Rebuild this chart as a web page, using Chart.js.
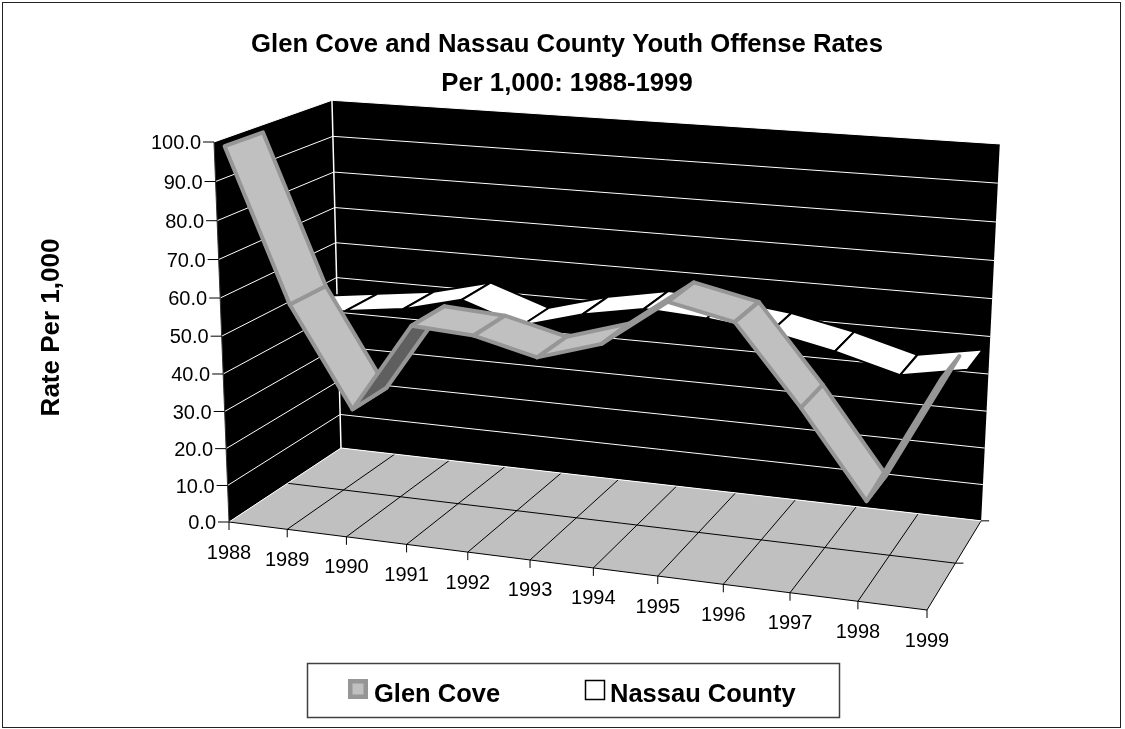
<!DOCTYPE html>
<html>
<head>
<meta charset="utf-8">
<title>Glen Cove and Nassau County Youth Offense Rates</title>
<script src="https://cdn.jsdelivr.net/npm/chart.js@4.4.1/dist/chart.umd.min.js"></script>
<style>
  html, body { margin: 0; padding: 0; background: #fff; }
  canvas { display: block; }
</style>
</head>
<body>
<canvas id="chart" width="1125" height="729"></canvas>
<script>
// Youth offense rate per 1,000, by year
const years = ['1988', '1989', '1990', '1991', '1992', '1993', '1994', '1995', '1996', '1997', '1998', '1999'];
const glenCove = [98.0, 58.5, 32.5, 56.0, 55.0, 51.0, 56.0, 68.0, 64.5, 45.0, 23.5, 55.5];
const nassauCounty = [47.0, 49.0, 51.0, 55.0, 49.5, 54.0, 57.0, 56.0, 54.0, 50.5, 46.0, 49.0];
const rateTicks = [0, 10, 20, 30, 40, 50, 60, 70, 80, 90, 100];

const FONT = "'Liberation Sans', Arial, sans-serif";

// 3D box on screen: front-left-bottom corner, the three edges leaving it
// (years, rate, series depth) and a perspective factor for each edge
const origin = [229, 522];
const edgeX = [698, 88];
const edgeY = [-15, -380];
const edgeZ = [112, -74];
const persp = [-0.09, -0.043, 0.098];

// depth band of each ribbon, 0 = front of floor, 1 = back wall
const ribbonDepth = [[0.08, 0.39], [0.56, 0.86]];

function project(u, v, w) {
  const d = 1 + persp[0] * u + persp[1] * v + persp[2] * w;
  const sx = 1 + persp[0], sy = 1 + persp[1], sz = 1 + persp[2];
  const x = u * edgeX[0] * sx + v * edgeY[0] * sy + w * edgeZ[0] * sz;
  const y = u * edgeX[1] * sx + v * edgeY[1] * sy + w * edgeZ[1] * sz;
  return [origin[0] + x / d, origin[1] + y / d];
}

function fillPoly(ctx, pts, color) {
  ctx.beginPath();
  pts.forEach((p, i) => i ? ctx.lineTo(p[0], p[1]) : ctx.moveTo(p[0], p[1]));
  ctx.closePath();
  ctx.fillStyle = color;
  ctx.fill();
}

function line(ctx, a, b, color, width) {
  ctx.beginPath();
  ctx.moveTo(a[0], a[1]);
  ctx.lineTo(b[0], b[1]);
  ctx.strokeStyle = color;
  ctx.lineWidth = width;
  ctx.stroke();
}

// normalised position of a category / value inside the chart area
function unitX(chart, index) {
  const a = chart.chartArea;
  return (chart.scales.x.getPixelForValue(index) - a.left) / (a.right - a.left);
}
function unitY(chart, value) {
  const a = chart.chartArea;
  return (a.bottom - chart.scales.y.getPixelForValue(value)) / (a.bottom - a.top);
}

function drawRibbon(ctx, chart, dsIndex) {
  const ds = chart.data.datasets[dsIndex];
  const meta = chart.getDatasetMeta(dsIndex);
  const a = chart.chartArea;
  const [w0, w1] = ribbonDepth[dsIndex];
  const pts = meta.data.map(el => ({
    u: (el.x - a.left) / (a.right - a.left),
    v: (a.bottom - el.y) / (a.bottom - a.top)
  }));
  const segs = [];
  for (let i = 0; i < pts.length - 1; i++) {
    const p = pts[i], q = pts[i + 1];
    segs.push({
      quad: [project(p.u, p.v, w0), project(q.u, q.v, w0), project(q.u, q.v, w1), project(p.u, p.v, w1)],
      dist: 1 + persp[0] * (p.u + q.u) / 2 + persp[1] * (p.v + q.v) / 2
    });
  }
  // far segments first
  segs.sort((s, t) => t.dist - s.dist);
  ctx.save();
  ctx.lineJoin = 'round';
  segs.forEach(s => {
    const [A, B, , D] = s.quad;
    const cross = (B[0] - A[0]) * (D[1] - A[1]) - (B[1] - A[1]) * (D[0] - A[0]);
    // strip seen from underneath when the winding flips
    fillPoly(ctx, s.quad, cross > 0 ? ds.undersideColor : ds.backgroundColor);
    ctx.strokeStyle = ds.borderColor;
    ctx.lineWidth = ds.borderWidth;
    ctx.stroke();
  });
  ctx.restore();
}

const box3d = {
  id: 'box3d',
  beforeDatasetsDraw(chart) {
    const ctx = chart.ctx;
    const n = years.length;
    const u0 = unitX(chart, 0), u1 = unitX(chart, n - 1);
    const vMin = unitY(chart, rateTicks[0]), vMax = unitY(chart, rateTicks[rateTicks.length - 1]);
    ctx.save();

    // walls and floor
    fillPoly(ctx, [project(u0, vMin, 0), project(u0, vMax, 0), project(u0, vMax, 1), project(u0, vMin, 1)], '#000');
    fillPoly(ctx, [project(u0, vMin, 1), project(u0, vMax, 1), project(u1, vMax, 1), project(u1, vMin, 1)], '#000');
    fillPoly(ctx, [project(u0, vMin, 0), project(u0, vMin, 1), project(u1, vMin, 1), project(u1, vMin, 0)], '#c0c0c0');

    // floor grid: one line per year, one between the two series rows
    for (let i = 1; i < n - 1; i++) {
      const u = unitX(chart, i);
      line(ctx, project(u, vMin, 0), project(u, vMin, 1), '#000', 1);
    }
    const rows = chart.data.datasets.length;
    for (let r = 1; r < rows; r++) {
      line(ctx, project(u0, vMin, r / rows), project(u1, vMin, r / rows), '#000', 1);
    }
    line(ctx, project(u1, vMin, 0), project(u1, vMin, 1), '#000', 1);

    // wall gridlines
    rateTicks.forEach(t => {
      const v = unitY(chart, t);
      line(ctx, project(u0, v, 0), project(u0, v, 1), '#fff', 1);
      line(ctx, project(u0, v, 1), project(u1, v, 1), '#fff', 1);
    });
    line(ctx, project(u0, vMin, 1), project(u0, vMax, 1), '#fff', 1.5);

    // value axis with ticks and labels
    line(ctx, project(u0, vMin, 0), project(u0, vMax, 0), '#333', 1);
    ctx.font = '20px ' + FONT;
    ctx.fillStyle = '#000';
    ctx.textAlign = 'right';
    ctx.textBaseline = 'alphabetic';
    rateTicks.forEach(t => {
      const p = project(u0, unitY(chart, t), 0);
      line(ctx, [p[0] - 11, p[1]], p, '#000', 1);
      ctx.fillText(t.toFixed(1), p[0] - 13, p[1] + 7.3);
    });

    // category axis along the front edge of the floor
    line(ctx, project(u0, vMin, 0), project(u1, vMin, 0), '#000', 1);
    ctx.textAlign = 'center';
    years.forEach((yr, i) => {
      const p = project(unitX(chart, i), vMin, 0);
      line(ctx, p, [p[0], p[1] + 8], '#000', 1);
      ctx.fillText(yr, p[0], p[1] + 36.5);
    });

    // series axis ticks on the right edge of the floor
    for (let r = 1; r <= rows; r++) {
      const p = project(u1, vMin, r / rows);
      line(ctx, p, [p[0] + 8, p[1]], '#000', 1);
    }
    ctx.restore();
  },
  afterDatasetsDraw(chart) {
    const ctx = chart.ctx;
    // back series first, front series on top
    for (let i = chart.data.datasets.length - 1; i >= 0; i--) drawRibbon(ctx, chart, i);
  },
  afterDraw(chart) {
    const ctx = chart.ctx;
    ctx.save();

    // axis title
    ctx.translate(51.5, 327.5);
    ctx.rotate(-Math.PI / 2);
    ctx.font = 'bold 26px ' + FONT;
    ctx.fillStyle = '#000';
    ctx.textAlign = 'center';
    ctx.textBaseline = 'middle';
    ctx.fillText('Rate Per 1,000', 0, 0);
    ctx.setTransform(1, 0, 0, 1, 0, 0);

    // legend
    ctx.strokeStyle = '#404040';
    ctx.lineWidth = 1.5;
    ctx.strokeRect(307.5, 663.5, 532, 54);
    const ds = chart.data.datasets;
    ctx.fillStyle = ds[0].backgroundColor;
    ctx.fillRect(348, 679, 20, 20);
    ctx.strokeStyle = ds[0].borderColor;
    ctx.lineWidth = 4.5;
    ctx.strokeRect(350.25, 681.25, 15.5, 15.5);
    ctx.fillStyle = ds[1].backgroundColor;
    ctx.fillRect(585.5, 680.5, 19, 19);
    ctx.strokeStyle = ds[1].borderColor;
    ctx.lineWidth = 1.5;
    ctx.strokeRect(585.5, 680.5, 19, 19);
    ctx.font = 'bold 25.5px ' + FONT;
    ctx.fillStyle = '#000';
    ctx.textAlign = 'left';
    ctx.textBaseline = 'alphabetic';
    ctx.fillText(ds[0].label, 374, 701.5);
    ctx.fillText(ds[1].label, 610, 701.5);

    // outer frame
    ctx.strokeStyle = '#222';
    ctx.lineWidth = 1;
    ctx.strokeRect(2.5, 2.5, 1118, 725);
    ctx.restore();
  }
};

new Chart(document.getElementById('chart'), {
  type: 'line',
  data: {
    labels: years,
    datasets: [
      {
        label: 'Glen Cove',
        data: glenCove,
        backgroundColor: '#c0c0c0',
        undersideColor: '#5f5f5f',
        borderColor: '#969696',
        borderWidth: 4,
        showLine: false,
        pointRadius: 0
      },
      {
        label: 'Nassau County',
        data: nassauCounty,
        backgroundColor: '#ffffff',
        undersideColor: '#c0c0c0',
        borderColor: '#000000',
        borderWidth: 2,
        showLine: false,
        pointRadius: 0
      }
    ]
  },
  options: {
    responsive: false,
    animation: false,
    devicePixelRatio: 1,
    events: [],
    layout: { padding: { left: 9, right: 0, top: 0, bottom: 0 } },
    scales: {
      x: { type: 'category', offset: false, display: false },
      y: { min: 0, max: 100, display: false }
    },
    plugins: {
      legend: { display: false },
      tooltip: { enabled: false },
      title: {
        display: true,
        text: ['Glen Cove and Nassau County Youth Offense Rates', 'Per 1,000: 1988-1999'],
        color: '#000',
        font: { family: FONT, size: 25.7, weight: 'bold', lineHeight: 1.52 },
        padding: { top: 25, bottom: 10 }
      }
    }
  },
  plugins: [box3d]
});
</script>
</body>
</html>
